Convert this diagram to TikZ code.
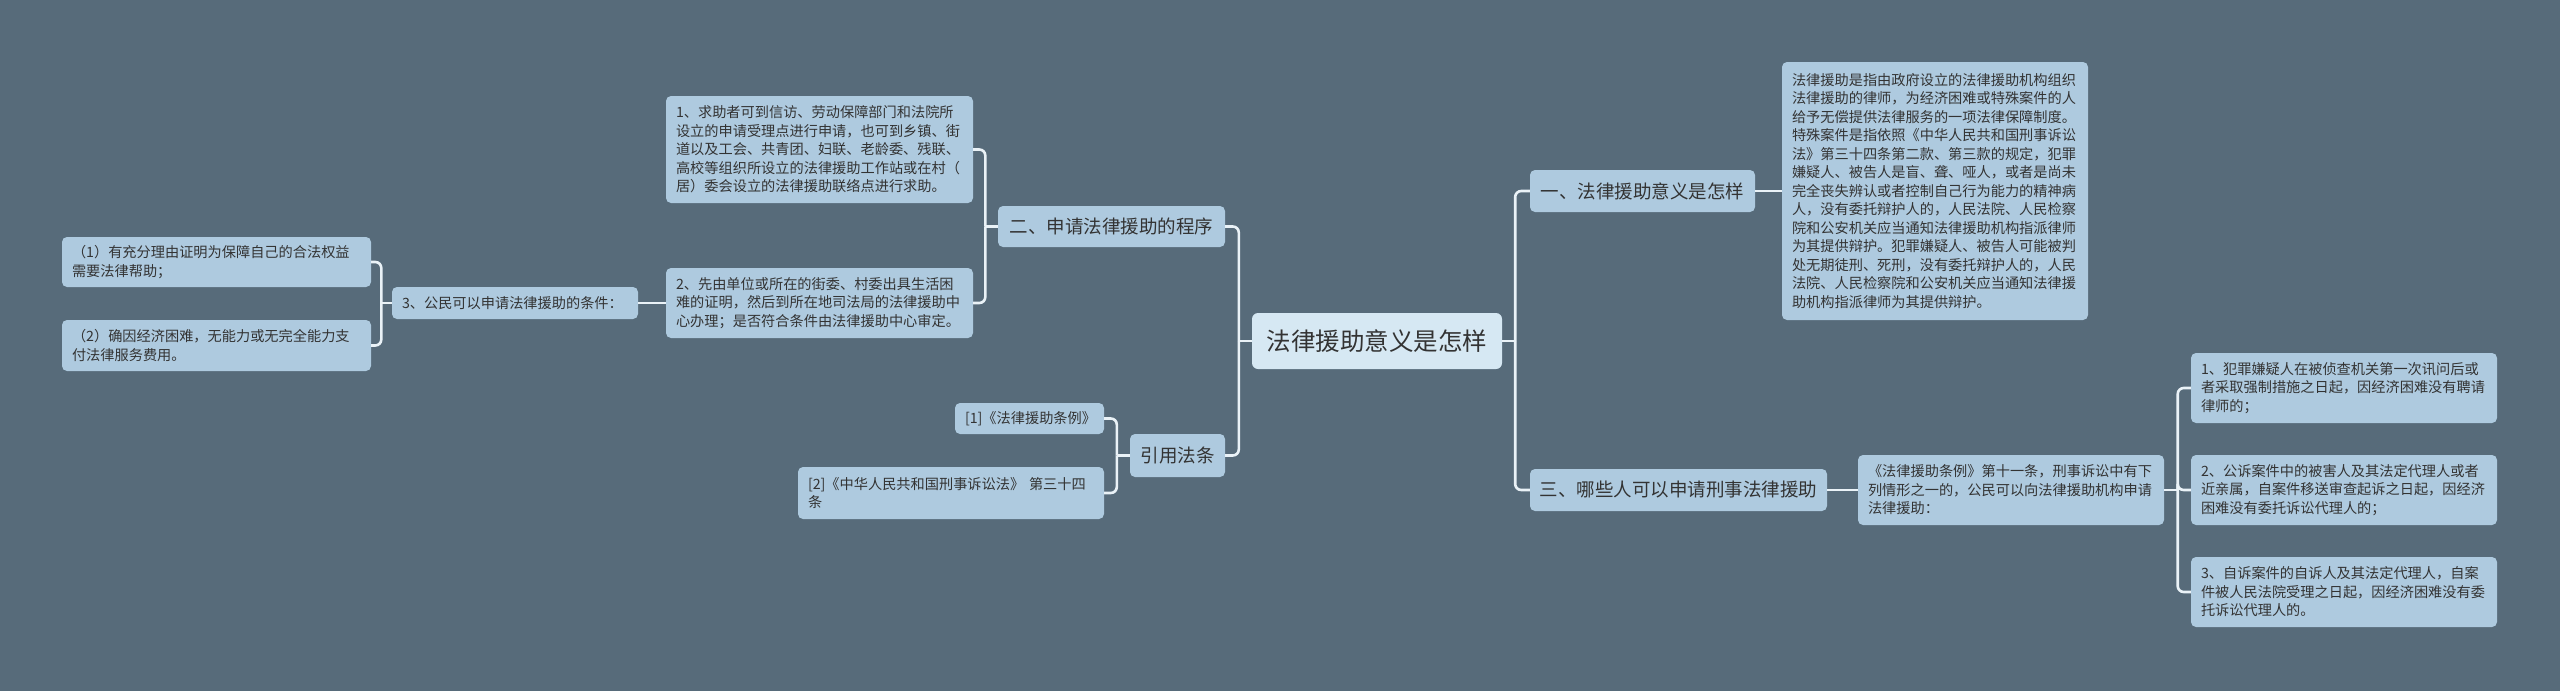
\documentclass[tikz,border=0pt]{standalone}
\usepackage{fontspec}
\setmainfont{Noto Sans CJK SC}
\usetikzlibrary{positioning,calc}
\definecolor{bgcol}{HTML}{576B7A}
\definecolor{nodecol}{HTML}{AECADF}
\definecolor{rootcol}{HTML}{D6E8F3}
\definecolor{wirecol}{HTML}{EAF2F7}
\definecolor{txtcol}{HTML}{333333}
\tikzset{
  wire/.style    = {draw=wirecol, line width=2.6pt, rounded corners=6pt},
  rootbox/.style = {fill=rootcol, rounded corners=6pt, text=txtcol, inner sep=0pt,
                    font=\fontsize{24.5}{28}\selectfont},
  topbox/.style  = {fill=nodecol, rounded corners=5pt, text=txtcol, inner sep=0pt,
                    font=\fontsize{18.5}{22}\selectfont},
  leafbox/.style = {fill=nodecol, rounded corners=5pt, text=txtcol, inner xsep=10pt,
                    inner ysep=0pt, align=left, font=\fontsize{14.2}{18.5}\selectfont},
}

\begin{document}
\begin{tikzpicture}[x=1pt,y=-1pt]
  \fill[bgcol] (0,0) rectangle (2560,691);
  \useasboundingbox (0,0) rectangle (2560,691);
  % centre
  \node[rootbox, minimum width=250pt, minimum height=56pt] (root) at (1377,341) {法律援助意义是怎样};
  % right
  \node[topbox, minimum width=225pt, minimum height=42pt] (mean) at (1642.5,191) {一、法律援助意义是怎样};
  \node[topbox, minimum width=297pt, minimum height=42pt] (who) at (1678.5,490) {三、哪些人可以申请刑事法律援助};
  \node[leafbox, text width=286pt, minimum height=258pt] (def) at (1935,191) {法律援助是指由政府设立的法律援助机构组织\\
    法律援助的律师，为经济困难或特殊案件的人\\
    给予无偿提供法律服务的一项法律保障制度。\\
    特殊案件是指依照《中华人民共和国刑事诉讼\\
    法》第三十四条第二款、第三款的规定，犯罪\\
    嫌疑人、被告人是盲、聋、哑人，或者是尚未\\
    完全丧失辨认或者控制自己行为能力的精神病\\
    人，没有委托辩护人的，人民法院、人民检察\\
    院和公安机关应当通知法律援助机构指派律师\\
    为其提供辩护。犯罪嫌疑人、被告人可能被判\\
    处无期徒刑、死刑，没有委托辩护人的，人民\\
    法院、人民检察院和公安机关应当通知法律援\\
    助机构指派律师为其提供辩护。};
  \node[leafbox, text width=286pt, minimum height=70pt] (art) at (2011,490) {《法律援助条例》第十一条，刑事诉讼中有下\\
    列情形之一的，公民可以向法律援助机构申请\\
    法律援助：};
  \node[leafbox, text width=286pt, minimum height=70pt] (caseA) at (2344,388) {1、犯罪嫌疑人在被侦查机关第一次讯问后或\\
    者采取强制措施之日起，因经济困难没有聘请\\
    律师的；};
  \node[leafbox, text width=286pt, minimum height=70pt] (caseB) at (2344,490) {2、公诉案件中的被害人及其法定代理人或者\\
    近亲属，自案件移送审查起诉之日起，因经济\\
    困难没有委托诉讼代理人的；};
  \node[leafbox, text width=286pt, minimum height=70pt] (caseC) at (2344,592) {3、自诉案件的自诉人及其法定代理人，自案\\
    件被人民法院受理之日起，因经济困难没有委\\
    托诉讼代理人的。};
  % left
  \node[topbox, minimum width=227pt, minimum height=41pt] (proc) at (1111.5,226.5) {二、申请法律援助的程序};
  \node[topbox, minimum width=95pt, minimum height=43pt] (cite) at (1177.5,455.5) {引用法条};
  \node[leafbox, text width=287pt, minimum height=107pt] (procA) at (819.5,149.5) {1、求助者可到信访、劳动保障部门和法院所\\
    设立的申请受理点进行申请，也可到乡镇、街\\
    道以及工会、共青团、妇联、老龄委、残联、\\
    高校等组织所设立的法律援助工作站或在村（\\
    居）委会设立的法律援助联络点进行求助。};
  \node[leafbox, text width=287pt, minimum height=70pt] (procB) at (819.5,303) {2、先由单位或所在的街委、村委出具生活困\\
    难的证明，然后到所在地司法局的法律援助中\\
    心办理；是否符合条件由法律援助中心审定。};
  \node[leafbox, text width=226pt, minimum height=32pt] (cond) at (515,303) {3、公民可以申请法律援助的条件：};
  \node[leafbox, text width=289pt, minimum height=50pt] (condA) at (216.5,262) {（1）有充分理由证明为保障自己的合法权益\\
    需要法律帮助；};
  \node[leafbox, text width=289pt, minimum height=51pt] (condB) at (216.5,345.5) {（2）确因经济困难，无能力或无完全能力支\\
    付法律服务费用。};
  \node[leafbox, text width=129pt, minimum height=31pt] (lawA) at (1029.5,418.5) {[1]《法律援助条例》};
  \node[leafbox, text width=286pt, minimum height=52pt] (lawB) at (951,493) {[2]《中华人民共和国刑事诉讼法》 第三十四\\
    条};
  % wires right
  \coordinate (rbus) at ($(root.east)+(13,0)$);
  \draw[wire] (root.east) -- (rbus);
  \draw[wire] (rbus) |- (mean.west);
  \draw[wire] (rbus) |- (who.west);
  \draw[wire] (mean.east) -- (def.west);
  \draw[wire] (who.east) -- (art.west);
  \coordinate (abus) at ($(art.east)+(13.5,0)$);
  \draw[wire] (art.east) -- (abus);
  \draw[wire] (abus) |- (caseA.west);
  \draw[wire] (abus) |- (caseB.west);
  \draw[wire] (abus) |- (caseC.west);
  % wires left
  \coordinate (lbus) at ($(root.west)+(-13,0)$);
  \draw[wire] (root.west) -- (lbus);
  \draw[wire] (lbus) |- (proc.east);
  \draw[wire] (lbus) |- (cite.east);
  \coordinate (pbus) at ($(proc.west)+(-12.5,0)$);
  \draw[wire] (proc.west) -- (pbus);
  \draw[wire] (pbus) |- (procA.east);
  \draw[wire] (pbus) |- (procB.east);
  \draw[wire] (procB.west) -- (cond.east);
  \coordinate (cbus) at ($(cond.west)+(-10.5,0)$);
  \draw[wire] (cond.west) -- (cbus);
  \draw[wire] (cbus) |- (condA.east);
  \draw[wire] (cbus) |- (condB.east);
  \coordinate (qbus) at ($(cite.west)+(-13,0)$);
  \draw[wire] (cite.west) -- (qbus);
  \draw[wire] (qbus) |- (lawA.east);
  \draw[wire] (qbus) |- (lawB.east);
\end{tikzpicture}
\end{document}
